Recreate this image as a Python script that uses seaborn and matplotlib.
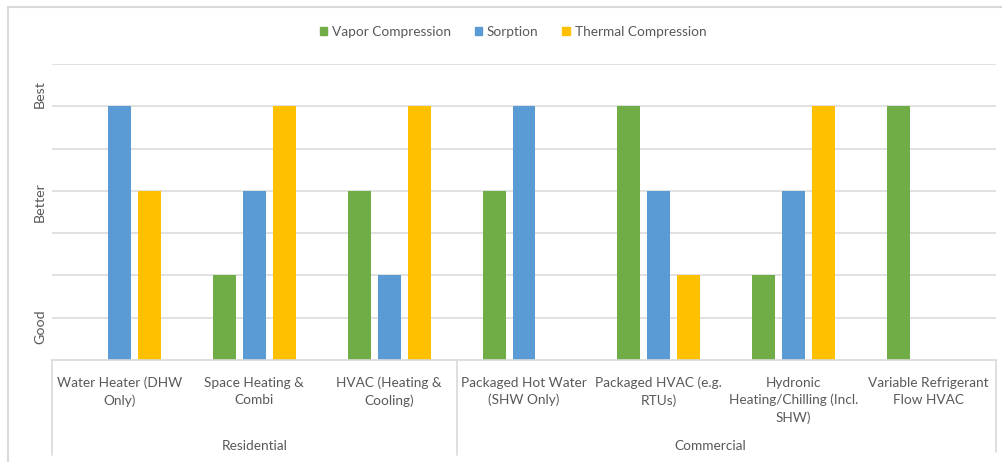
import numpy as np
import pandas as pd
import matplotlib
matplotlib.use("Agg")
import matplotlib.pyplot as plt
import matplotlib.transforms as mtransforms
import seaborn as sns

# Technology ratings per application (0 = not applicable, 2 = Good, 4 = Better, 6 = Best)
categories = [
    "Water Heater (DHW\nOnly)",
    "Space Heating &\nCombi",
    "HVAC (Heating &\nCooling)",
    "Packaged Hot Water\n(SHW Only)",
    "Packaged HVAC (e.g.\nRTUs)",
    "Hydronic\nHeating/Chilling (Incl.\nSHW)",
    "Variable Refrigerant\nFlow HVAC",
]
sectors = ["Residential", "Commercial"]
series = ["Vapor Compression", "Sorption", "Thermal Compression"]
vapor_compression = [0, 2, 4, 4, 6, 2, 6]
sorption = [6, 4, 2, 6, 4, 4, 0]
thermal_compression = [4, 6, 6, 0, 2, 6, 0]
rating_labels = ["Good", "Better", "Best"]
rating_label_pos = [0.78, 3.73, 6.3]

colors = ["#70AD47", "#5B9BD5", "#FFC000"]
text_color = "#595959"
grid_color = "#D9D9D9"
fs = 9.8

rows = []
for name, vals in zip(series, [vapor_compression, sorption, thermal_compression]):
    for cat, v in zip(categories, vals):
        rows.append({"Application": cat, "Technology": name, "Rating": v})
df = pd.DataFrame(rows)

sns.set_theme(style="white")
plt.rcParams["font.family"] = ["Lato", "DejaVu Sans"]

W, H = 1002, 462
fig = plt.figure(figsize=(W / 100, H / 100), dpi=100)
ax = fig.add_axes([52 / W, 1 - 360 / H, (996 - 52) / W, (360 - 64) / H])

sns.barplot(
    data=df, x="Application", y="Rating", hue="Technology",
    order=categories, hue_order=series, palette=colors,
    width=0.667, gap=0.234, linewidth=0, saturation=1, ax=ax, errorbar=None,
)

ax.set_ylim(0, 7)
ax.set_xlim(-0.5, len(categories) - 0.5)
ax.set_xticks(range(len(categories)), categories, linespacing=1.5,
              fontsize=fs, color=text_color)
ax.set_yticks(np.arange(1, 8))
ax.set_yticklabels([])
ax.yaxis.grid(True, color=grid_color, linewidth=1.1)
ax.set_axisbelow(True)
ax.tick_params(axis="both", length=0)
ax.tick_params(axis="x", pad=12)
ax.set_xlabel("")
ax.set_ylabel("")
for s in ["left", "right", "top"]:
    ax.spines[s].set_visible(False)
ax.spines["bottom"].set_color(grid_color)
ax.spines["bottom"].set_linewidth(1.2)

# Rating labels along the value axis
ytrans = mtransforms.blended_transform_factory(fig.transFigure, ax.transData)
for lab, pos in zip(rating_labels, rating_label_pos):
    ax.text(40 / W, pos, lab, transform=ytrans, rotation=90, ha="center",
            va="center", fontsize=10.3, color=text_color)

# Sector grouping below the category labels
xtrans = mtransforms.blended_transform_factory(ax.transData, fig.transFigure)
for xb, y_end in zip([-0.5, 2.5, 6.5], [455, 455, 452]):
    ax.plot([xb, xb], [1 - 360 / H, 1 - y_end / H], transform=xtrans,
            color=grid_color, linewidth=1.2, clip_on=False)
for sec, xc in zip(sectors, [1.0, 4.38]):
    ax.text(xc, 1 - 446 / H, sec, transform=xtrans, ha="center", va="center",
            fontsize=fs, color=text_color)

# Legend across the top
ax.legend_.remove()
handles = [plt.Rectangle((0, 0), 1, 1, color=c) for c in colors]
fig.legend(handles, series, loc="center", bbox_to_anchor=(513 / W, 1 - 32 / H),
           ncol=3, frameon=False, handlelength=0.55, handleheight=0.55,
           handletextpad=0.35, columnspacing=1.75, fontsize=fs,
           labelcolor=text_color)

# Chart area border
fig.add_artist(plt.Line2D([8 / W, 8 / W], [0, 1 - 7 / H], color=grid_color,
                          linewidth=1.5, transform=fig.transFigure))
fig.add_artist(plt.Line2D([8 / W, 1], [1 - 7 / H, 1 - 7 / H], color=grid_color,
                          linewidth=1.5, transform=fig.transFigure))

fig.savefig("out.png", dpi=100)
